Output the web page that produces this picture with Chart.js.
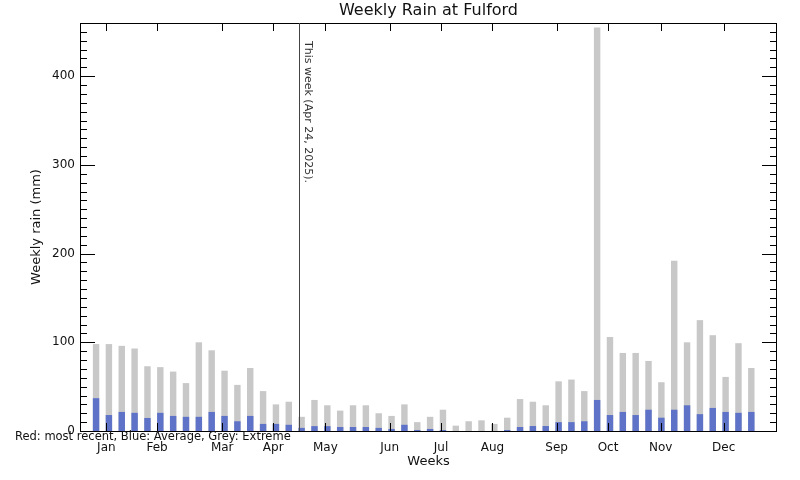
<!DOCTYPE html>
<html>
<head>
<meta charset="utf-8">
<script src="https://cdn.jsdelivr.net/npm/chart.js@4/dist/chart.umd.min.js"></script>
<style>
  html, body { margin: 0; padding: 0; background: #fff; }
  #wrap { width: 800px; height: 480px; }
</style>
</head>
<body>
<div id="wrap"><canvas id="c" width="800" height="480"></canvas></div>
<script>
// ---- Data ----
const weeks = Array.from({length: 52}, (_, i) => i + 1);
const extremeRain = [98, 98, 96, 93, 73, 72, 67, 54, 100, 91, 68, 52, 71, 45, 30, 33,
  16, 35, 29, 23, 29, 29, 20, 17, 30, 10, 16, 24, 6, 11, 12, 8,
  15, 36, 33, 29, 56, 58, 45, 455, 106, 88, 88, 79, 55, 192, 100, 125,
  108, 61, 99, 71];
const averageRain = [37, 18, 21.5, 20.5, 14.7, 20.5, 17, 16, 16, 21.5, 17, 11, 17, 8, 8, 7,
  3.5, 5.5, 5.5, 4.5, 4.5, 4.5, 3.5, 2.3, 7, 1.1, 2.3, 1.1, 0, 0, 0, 0,
  1.1, 4.5, 5.6, 5.6, 10, 10, 11, 35, 18, 21.5, 18, 24, 15, 24, 29, 19,
  26, 21.5, 20.5, 21.5];
const recentRain = []; // no "most recent" bars visible in the reference
const monthLabels = ['Jan', 'Feb', 'Mar', 'Apr', 'May', 'Jun', 'Jul', 'Aug', 'Sep', 'Oct', 'Nov', 'Dec'];
const monthTickWeeks = [2.05, 6.0, 11.07, 15.04, 19.1, 24.1, 28.1, 32.1, 37.1, 41.1, 45.2, 50.1];
const yMajorTicks = [0, 100, 200, 300, 400];
const thisWeek = 17.07;
const thisWeekLabel = 'This week (Apr 24, 2025).';

const FONT = 'DejaVu Sans';

const toPts = arr => arr.map((v, i) => ({x: weeks[i] + 0.25, y: v}));

const decor = {
  id: 'decor',
  afterDatasetsDraw(chart) {
    const {ctx, chartArea: a, scales: {x, y}} = chart;
    ctx.save();
    ctx.strokeStyle = '#000';
    ctx.lineWidth = 1;
    // frame
    ctx.strokeRect(Math.round(a.left) + 0.5, Math.round(a.top) + 0.5,
      Math.round(a.right - a.left) - 1, Math.round(a.bottom - a.top));
    ctx.beginPath();
    // x month ticks (bottom, top) inward
    monthTickWeeks.forEach(w => {
      const px = Math.round(x.getPixelForValue(w)) + 0.5;
      ctx.moveTo(px, a.bottom); ctx.lineTo(px, a.bottom - 8);
      ctx.moveTo(px, a.top); ctx.lineTo(px, a.top + 8);
    });
    // y ticks, minor every 10
    for (let v = 0; v <= y.max; v += 10) {
      const py = Math.round(y.getPixelForValue(v)) + 0.5;
      const len = (v % 100 === 0) ? 15 : 7;
      ctx.moveTo(a.left, py); ctx.lineTo(a.left + len, py);
      ctx.moveTo(a.right, py); ctx.lineTo(a.right - len, py);
    }
    ctx.stroke();
    // this week line
    const lx = Math.round(x.getPixelForValue(thisWeek)) + 0.5;
    ctx.strokeStyle = '#444';
    ctx.beginPath();
    ctx.moveTo(lx, a.top); ctx.lineTo(lx, a.bottom);
    ctx.stroke();
    ctx.fillStyle = '#333';
    ctx.font = '11px ' + FONT;
    ctx.save();
    ctx.translate(lx + 3, a.top + 18);
    ctx.rotate(Math.PI / 2);
    ctx.textAlign = 'left';
    ctx.textBaseline = 'bottom';
    ctx.fillText(thisWeekLabel, 0, 0);
    ctx.restore();
    // texts
    ctx.fillStyle = '#111';
    const cx = (a.left + a.right) / 2;
    ctx.textAlign = 'center';
    ctx.textBaseline = 'middle';
    ctx.font = '16px ' + FONT;
    ctx.fillText('Weekly Rain at Fulford', cx, 11);
    ctx.font = '13px ' + FONT;
    ctx.fillText('Weeks', cx, 462);
    ctx.save();
    ctx.translate(37, (a.top + a.bottom) / 2);
    ctx.rotate(-Math.PI / 2);
    ctx.fillText('Weekly rain (mm)', 0, 0);
    ctx.restore();
    ctx.textAlign = 'left';
    ctx.font = '11.5px ' + FONT;
    ctx.fillText('Red: most recent, Blue: Average, Grey: Extreme', 15, 437);
    ctx.restore();
  }
};

new Chart(document.getElementById('c'), {
  type: 'bar',
  data: {
    datasets: [
      {label: 'Most recent', data: toPts(recentRain), backgroundColor: '#e02020', order: 0},
      {label: 'Average', data: toPts(averageRain), backgroundColor: '#5e73c8', order: 1},
      {label: 'Extreme', data: toPts(extremeRain), backgroundColor: '#c8c8c8', order: 2}
    ]
  },
  options: {
    responsive: false,
    animation: false,
    devicePixelRatio: 1,
    grouped: false,
    barPercentage: 0.5,
    categoryPercentage: 1.0,
    layout: {padding: {top: 23, right: 23, left: 0, bottom: 0}},
    plugins: {legend: {display: false}, tooltip: {enabled: false}, title: {display: false}},
    scales: {
      x: {
        type: 'linear',
        min: 0,
        max: 54.25,
        offset: false,
        grid: {display: false, drawTicks: false},
        border: {display: false},
        afterFit(s) { s.height = 49; },
        afterBuildTicks(s) { s.ticks = monthTickWeeks.map(v => ({value: v})); },
        ticks: {
          autoSkip: false, maxRotation: 0, padding: 10,
          color: '#111', font: {family: FONT, size: 12},
          callback: (v, i) => monthLabels[i]
        }
      },
      y: {
        min: 0,
        max: 460,
        grid: {display: false, drawTicks: false},
        border: {display: false},
        afterFit(s) { s.width = 80; },
        afterBuildTicks(s) { s.ticks = yMajorTicks.map(v => ({value: v})); },
        ticks: {padding: 5, color: '#111', font: {family: FONT, size: 12}}
      }
    }
  },
  plugins: [decor]
});
</script>
</body>
</html>
